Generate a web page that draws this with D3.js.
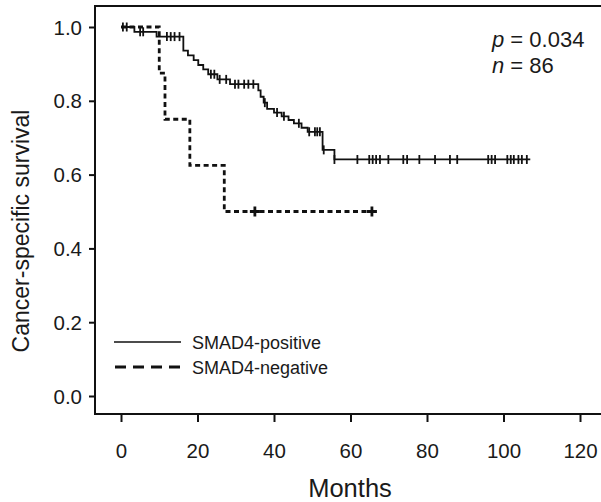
<!DOCTYPE html>
<html><head><meta charset="utf-8">
<script src="https://cdn.jsdelivr.net/npm/d3@7"></script>
<style>body{margin:0;background:#fff}svg{display:block}text{font-family:"Liberation Sans",Arial,sans-serif;fill:#1a1a1a}</style>
</head><body><svg id="c" width="601" height="502"></svg>
<script>
const xTicks = [0, 20, 40, 60, 80, 100, 120];
const yTicks = [0.0, 0.2, 0.4, 0.6, 0.8, 1.0];
const seriesNames = ["SMAD4-positive", "SMAD4-negative"];
// SMAD4-positive: event times (months) and survival after each step
const posTimes = [0, 3.5, 9.3, 16.3, 17.5, 19.0, 20.2, 21.5, 22.8, 25.2, 28.5, 35.9, 36.5, 37.3, 38.2, 40.0, 42.0, 43.8, 45.2, 47.2, 48.8, 52.7, 55.8];
const posSurv  = [1.0, 0.987, 0.974, 0.936, 0.923, 0.910, 0.897, 0.885, 0.872, 0.858, 0.845, 0.828, 0.811, 0.795, 0.778, 0.768, 0.758, 0.748, 0.739, 0.727, 0.716, 0.667, 0.641];
const posEnd = 107;
const posCensor = [0.5, 1.5, 5.0, 5.8, 12.0, 13.0, 14.0, 15.3, 23.5, 24.4, 25.8, 27.5, 29.8, 30.7, 32.2, 33.3, 34.6, 37.6, 40.8, 42.6, 46.5, 49.2, 50.7, 51.3, 52.0, 53.0, 55.8, 61.8, 64.9, 65.8, 66.7, 67.7, 69.9, 73.8, 74.8, 78.0, 82.1, 86.0, 87.9, 96.0, 96.9, 97.8, 101.0, 101.9, 102.7, 103.9, 104.8, 106.1];
// SMAD4-negative
const negTimes = [0, 10, 11.5, 18, 27];
const negSurv  = [1.0, 0.875, 0.75, 0.625, 0.5];
const negEnd = 65.6;
const negCensor = [35, 65.6];
const annotP = "0.034", annotN = "86";

const svg = d3.select("#c");
const x = d3.scaleLinear().domain([0, 120]).range([121, 580]);
const y = d3.scaleLinear().domain([0, 1]).range([396, 27]);
const frameL = 95, frameB = 414, frameT = 6, frameR = 601;

// frame
svg.append("path").attr("d", `M${frameR},${frameT}H${frameL}V${frameB}H${frameR}`)
  .attr("fill", "none").attr("stroke", "#111").attr("stroke-width", 2);

// axes
const ya = svg.append("g").attr("transform", `translate(${frameL},0)`)
  .call(d3.axisLeft(y).tickValues(yTicks).tickFormat(d3.format(".1f")).tickSize(6).tickPadding(7));
ya.select(".domain").remove();
ya.selectAll("line").attr("stroke", "#111").attr("stroke-width", 2);
ya.selectAll("text").attr("font-size", 20.5).attr("dy", "0.35em").style("font-family", "Liberation Sans, Arial, sans-serif").attr("fill", "#1a1a1a");

const xa = svg.append("g").attr("transform", `translate(0,${frameB})`)
  .call(d3.axisBottom(x).tickValues(xTicks).tickFormat(d3.format("d")).tickSize(8));
xa.select(".domain").remove();
xa.selectAll("line").attr("stroke", "#111").attr("stroke-width", 2);
xa.selectAll("text").attr("font-size", 20.5).attr("y", 44).attr("dy", 0).style("font-family", "Liberation Sans, Arial, sans-serif").attr("fill", "#1a1a1a");

// titles
svg.append("text").attr("x", 350).attr("y", 497).attr("text-anchor", "middle").attr("font-size", 25.5).text("Months");
svg.append("text").attr("transform", "translate(29,231) rotate(-90)").attr("text-anchor", "middle").attr("font-size", 23).text("Cancer-specific survival");

// step lines
const line = d3.line().x(d => x(d[0])).y(d => y(d[1])).curve(d3.curveStepAfter);
const posPts = posTimes.map((t, i) => [t, posSurv[i]]).concat([[posEnd, posSurv[posSurv.length - 1]]]);
const negPts = negTimes.map((t, i) => [t, negSurv[i]]).concat([[negEnd, negSurv[negSurv.length - 1]]]);
function survAt(times, surv, t) { let s = surv[0]; for (let i = 0; i < times.length; i++) if (times[i] <= t) s = surv[i]; return s; }

svg.append("path").attr("d", line(negPts)).attr("fill", "none").attr("stroke", "#111")
  .attr("stroke-width", 2.8).attr("stroke-dasharray", "5,3.5");
svg.append("path").attr("d", line(posPts)).attr("fill", "none").attr("stroke", "#111").attr("stroke-width", 1.8);

// censor marks
svg.append("g").selectAll("line").data(posCensor).join("line")
  .attr("x1", d => x(d)).attr("x2", d => x(d))
  .attr("y1", d => y(survAt(posTimes, posSurv, d)) - 4.5).attr("y2", d => y(survAt(posTimes, posSurv, d)) + 4.5)
  .attr("stroke", "#111").attr("stroke-width", 1.8);
const ng = svg.append("g");
negCensor.forEach(t => {
  const cx = x(t), cy = y(survAt(negTimes, negSurv, t));
  ng.append("path").attr("d", `M${cx - 5},${cy}H${cx + 5}M${cx},${cy - 5}V${cy + 5}`).attr("stroke", "#111").attr("stroke-width", 2.8);
});

// legend
const lg = svg.append("g");
lg.append("line").attr("x1", 114).attr("x2", 181).attr("y1", 342).attr("y2", 342).attr("stroke", "#111").attr("stroke-width", 1.5);
lg.append("line").attr("x1", 115).attr("x2", 181).attr("y1", 367).attr("y2", 367).attr("stroke", "#111").attr("stroke-width", 3).attr("stroke-dasharray", "11,7");
lg.append("text").attr("x", 192).attr("y", 348.5).attr("font-size", 18).text(seriesNames[0]);
lg.append("text").attr("x", 192).attr("y", 373.5).attr("font-size", 18).text(seriesNames[1]);

// annotation
const a1 = svg.append("text").attr("x", 492).attr("y", 47).attr("font-size", 22);
a1.append("tspan").attr("font-style", "italic").text("p");
a1.append("tspan").text(" = " + annotP);
const a2 = svg.append("text").attr("x", 492).attr("y", 72.5).attr("font-size", 22);
a2.append("tspan").attr("font-style", "italic").text("n");
a2.append("tspan").text(" = " + annotN);
</script></body></html>
